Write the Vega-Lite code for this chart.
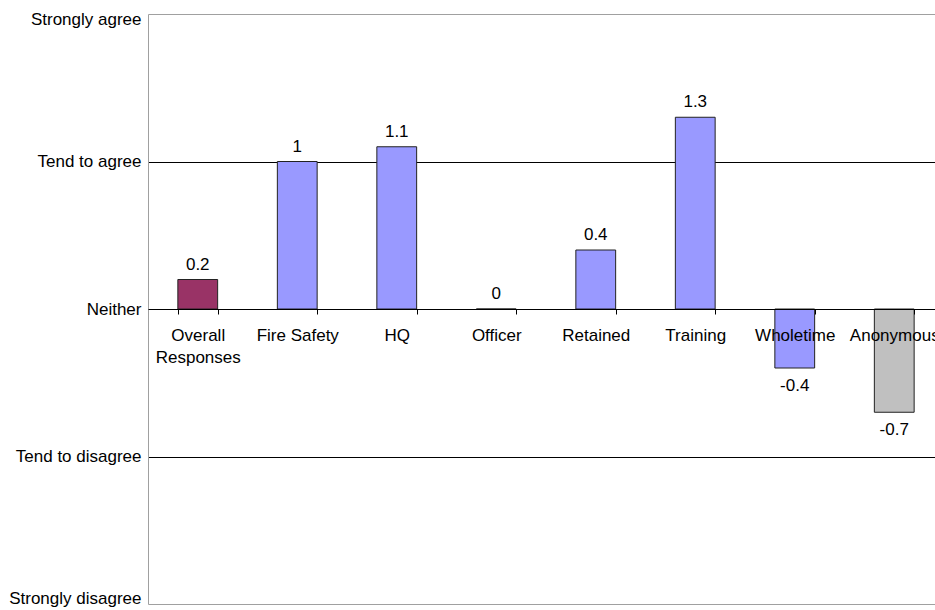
{
  "$schema": "https://vega.github.io/schema/vega-lite/v6.json",
  "width": 787,
  "height": 590,
  "autosize": {"type": "none"},
  "padding": {"left": 148, "top": 14, "right": 0, "bottom": 6},
  "config": {"view": {"stroke": null}, "font": "Liberation Sans"},
  "data": {
    "values": [
      {"group": "Overall Responses", "score": 0.2, "kind": "overall"},
      {"group": "Fire Safety", "score": 1, "kind": "group"},
      {"group": "HQ", "score": 1.1, "kind": "group"},
      {"group": "Officer", "score": 0, "kind": "group"},
      {"group": "Retained", "score": 0.4, "kind": "group"},
      {"group": "Training", "score": 1.3, "kind": "group"},
      {"group": "Wholetime", "score": -0.4, "kind": "group"},
      {"group": "Anonymous", "score": -0.7, "kind": "anonymous"}
    ]
  },
  "encoding": {
    "x": {
      "field": "group",
      "type": "nominal",
      "sort": null,
      "scale": {"range": [0, 796], "paddingInner": 0.6, "paddingOuter": 0.3},
      "axis": {
        "title": null,
        "orient": "bottom",
        "offset": -295,
        "labelAngle": 0,
        "tickBand": "extent",
        "tickSize": 5,
        "tickColor": "black",
        "domainColor": "black",
        "labelFontSize": 17,
        "labelColor": "black",
        "labelPadding": 13,
        "labelLineHeight": 22,
        "labelOverlap": false,
        "labelBound": false,
        "labelLimit": 0,
        "labelExpr": "datum.label == 'Overall Responses' ? ['Overall', 'Responses'] : datum.label",
        "zindex": 1,
        "grid": false
      }
    },
    "y": {
      "field": "score",
      "type": "quantitative",
      "scale": {"domain": [-2, 2], "nice": false, "zero": false},
      "axis": {
        "title": null,
        "values": [-2, -1, 0, 1, 2],
        "labelExpr": "datum.value == 2 ? 'Strongly agree' : datum.value == 1 ? 'Tend to agree' : datum.value == 0 ? 'Neither' : datum.value == -1 ? 'Tend to disagree' : 'Strongly disagree'",
        "ticks": false,
        "labelPadding": 7,
        "labelFontSize": 17,
        "labelColor": "black",
        "labelOverlap": false,
        "labelLimit": 0,
        "labelBaseline": {
          "condition": [
            {"test": "datum.value == 2", "value": "top"},
            {"test": "datum.value == -2", "value": "alphabetic"}
          ],
          "value": "middle"
        },
        "labelOffset": {
          "condition": [
            {"test": "datum.value == 2", "value": -3},
            {"test": "datum.value == -2", "value": -1}
          ],
          "value": 0
        },
        "domainColor": "#a0a0a0",
        "grid": true,
        "gridColor": {"condition": {"test": "abs(datum.value) == 2", "value": "#a0a0a0"}, "value": "black"},
        "gridOpacity": {"condition": {"test": "datum.value == 0", "value": 0}, "value": 1},
        "zindex": 0
      }
    }
  },
  "layer": [
    {
      "mark": {"type": "bar", "stroke": "#222222", "strokeWidth": 1},
      "encoding": {
        "y2": {"datum": 0},
        "color": {
          "field": "kind",
          "type": "nominal",
          "scale": {"domain": ["overall", "group", "anonymous"], "range": ["#993366", "#9999FF", "#C0C0C0"]},
          "legend": null
        }
      }
    },
    {
      "transform": [{"filter": "datum.score >= 0"}],
      "mark": {"type": "text", "baseline": "alphabetic", "dy": -10, "fontSize": 17, "color": "black"},
      "encoding": {"text": {"field": "score", "type": "nominal"}}
    },
    {
      "transform": [{"filter": "datum.score < 0"}],
      "mark": {"type": "text", "baseline": "alphabetic", "dy": 23, "fontSize": 17, "color": "black"},
      "encoding": {"text": {"field": "score", "type": "nominal"}}
    }
  ]
}
